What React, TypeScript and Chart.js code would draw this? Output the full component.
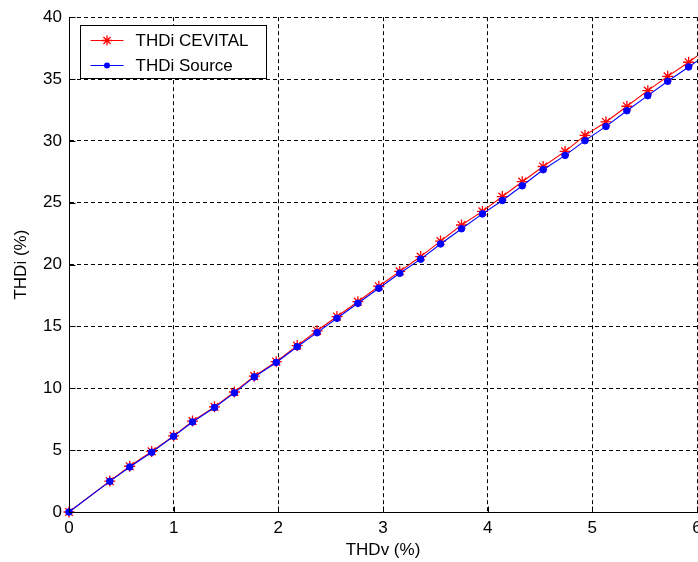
import React, { useEffect, useRef } from 'react';
import { Chart, registerables } from 'chart.js';

Chart.register(...registerables);

// ---- data ----
const thdv = [0, 0.39, 0.58, 0.79, 1.0, 1.18, 1.39, 1.58, 1.77, 1.98, 2.18, 2.37, 2.56, 2.76, 2.96, 3.16, 3.36, 3.55, 3.75, 3.95, 4.14, 4.33, 4.53, 4.74, 4.93, 5.13, 5.33, 5.53, 5.72, 5.92, 6.12];
const thdiCevital = [0, 2.5, 3.7, 4.9, 6.15, 7.35, 8.5, 9.7, 10.98, 12.15, 13.45, 14.65, 15.8, 17.0, 18.25, 19.45, 20.65, 21.9, 23.2, 24.3, 25.5, 26.7, 27.93, 29.15, 30.45, 31.53, 32.8, 34.06, 35.22, 36.36, 37.6];
const thdiSource = [0, 2.48, 3.64, 4.83, 6.12, 7.28, 8.45, 9.63, 10.92, 12.09, 13.36, 14.5, 15.66, 16.87, 18.09, 19.3, 20.44, 21.67, 22.9, 24.1, 25.18, 26.37, 27.67, 28.83, 30.02, 31.17, 32.44, 33.66, 34.82, 35.98, 37.15];
const xTicks = [0, 1, 2, 3, 4, 5, 6];
const yTicks = [0, 5, 10, 15, 20, 25, 30, 35, 40];
const seriesLabels = ['THDi CEVITAL', 'THDi Source'];
const seriesColors = ['#ff0000', '#0000ff'];
const seriesMarkers = ['star', 'circle'];
const xTitle = 'THDv (%)';
const yTitle = 'THDi (%)';

const FONT = '"Liberation Sans", Arial, Helvetica, sans-serif';
const FONT_SIZE = 17;

function drawMarker(ctx: CanvasRenderingContext2D, style: string, x: number, y: number, color: string) {
  ctx.save();
  ctx.strokeStyle = color;
  ctx.fillStyle = color;
  ctx.lineWidth = 1.3;
  if (style === 'star') {
    const r = 5;
    ctx.beginPath();
    for (let k = 0; k < 4; k++) {
      const a = (k * Math.PI) / 4;
      ctx.moveTo(x - r * Math.cos(a), y - r * Math.sin(a));
      ctx.lineTo(x + r * Math.cos(a), y + r * Math.sin(a));
    }
    ctx.stroke();
  } else {
    ctx.beginPath();
    ctx.arc(x, y, 3, 0, Math.PI * 2);
    ctx.fill();
  }
  ctx.restore();
}

const legendPlugin = {
  id: 'insideLegend',
  afterDraw(chart: any) {
    const { ctx, chartArea } = chart;
    const x0 = Math.round(chartArea.left + 11) + 0.5;
    const y0 = Math.round(chartArea.top + 8) + 0.5;
    const w = 186;
    const h = 53;
    ctx.save();
    ctx.fillStyle = '#ffffff';
    ctx.fillRect(x0, y0, w, h);
    ctx.strokeStyle = '#000000';
    ctx.lineWidth = 1;
    ctx.strokeRect(x0, y0, w, h);
    ctx.font = `${FONT_SIZE}px ${FONT}`;
    ctx.textBaseline = 'middle';
    ctx.textAlign = 'left';
    chart.data.datasets.forEach((ds: any, i: number) => {
      const yy = Math.round(y0 + 14 + i * 25) + 0.5;
      ctx.strokeStyle = ds.borderColor;
      ctx.lineWidth = 1;
      ctx.beginPath();
      ctx.moveTo(x0 + 10, yy);
      ctx.lineTo(x0 + 43, yy);
      ctx.stroke();
      drawMarker(ctx, ds.pointStyle, x0 + 26.5, yy, ds.borderColor);
      ctx.fillStyle = '#000000';
      ctx.fillText(ds.label, x0 + 55, yy + 1);
    });
    ctx.restore();
  },
};

const innerTicksPlugin = {
  id: 'innerTicks',
  afterDraw(chart: any) {
    const { ctx, chartArea } = chart;
    const xs = chart.scales.x;
    const ys = chart.scales.y;
    const len = 6;
    ctx.save();
    ctx.strokeStyle = '#000000';
    ctx.lineWidth = 1;
    ctx.setLineDash([]);
    ctx.beginPath();
    const bottom = Math.round(chartArea.bottom) + 0.5;
    const left = Math.round(chartArea.left) + 0.5;
    xTicks.forEach((v) => {
      const px = Math.round(xs.getPixelForValue(v)) + 0.5;
      ctx.moveTo(px, bottom);
      ctx.lineTo(px, bottom - len);
    });
    yTicks.forEach((v) => {
      const py = Math.round(ys.getPixelForValue(v)) + 0.5;
      ctx.moveTo(left, py);
      ctx.lineTo(left + len, py);
    });
    ctx.stroke();
    ctx.restore();
  },
};

export default function App() {
  const canvasRef = useRef<HTMLCanvasElement | null>(null);

  useEffect(() => {
    if (!canvasRef.current) return;
    Chart.defaults.font.family = FONT;
    Chart.defaults.font.size = FONT_SIZE;
    Chart.defaults.color = '#000000';

    const series = [thdiCevital, thdiSource];
    const datasets = series.map((vals, i) => ({
      label: seriesLabels[i],
      data: thdv.map((x, j) => ({ x, y: vals[j] })),
      borderColor: seriesColors[i],
      backgroundColor: seriesColors[i],
      borderWidth: 1.1,
      pointStyle: seriesMarkers[i],
      pointRadius: i === 0 ? 5.5 : 3.3,
      pointBorderWidth: i === 0 ? 1.3 : 1,
      pointBorderColor: seriesColors[i],
      pointBackgroundColor: seriesColors[i],
      tension: 0,
      order: i === 0 ? 1 : 0,
      clip: { left: 8, bottom: 8, top: 0, right: 0 },
    }));

    const chart = new Chart(canvasRef.current, {
      type: 'line',
      data: { datasets },
      options: {
        animation: false,
        responsive: false,
        devicePixelRatio: 1,
        layout: { padding: { left: 0, top: 17, right: 23, bottom: 0 } },
        plugins: {
          legend: { display: false },
          tooltip: { enabled: false },
        },
        scales: {
          x: {
            type: 'linear',
            min: 0,
            max: 6,
            afterBuildTicks: (s: any) => {
              s.ticks = xTicks.map((v) => ({ value: v }));
            },
            afterFit: (s: any) => {
              s.height = 50;
            },
            ticks: {
              padding: 6,
              color: '#000',
              font: { size: FONT_SIZE, family: FONT },
              callback: (v: any) => String(v),
              maxRotation: 0,
              autoSkip: false,
            },
            grid: {
              color: '#000000',
              lineWidth: 1,
              drawTicks: false,
            },
            border: { display: true, color: '#000000', width: 1, dash: [4, 3] },
            title: {
              display: true,
              text: xTitle,
              color: '#000',
              font: { size: FONT_SIZE, family: FONT },
              padding: { top: 0, bottom: 1 },
            },
          },
          y: {
            type: 'linear',
            min: 0,
            max: 40,
            afterBuildTicks: (s: any) => {
              s.ticks = yTicks.map((v) => ({ value: v }));
            },
            afterFit: (s: any) => {
              s.width = 69;
            },
            ticks: {
              padding: 7,
              color: '#000',
              font: { size: FONT_SIZE, family: FONT },
              callback: (v: any) => String(v),
              autoSkip: false,
            },
            grid: {
              color: '#000000',
              lineWidth: 1,
              drawTicks: false,
            },
            border: { display: true, color: '#000000', width: 1, dash: [4, 3] },
            title: {
              display: true,
              text: yTitle,
              color: '#000',
              font: { size: FONT_SIZE, family: FONT },
              padding: { top: 11, bottom: 0 },
            },
          },
        },
      },
      plugins: [innerTicksPlugin, legendPlugin],
    } as any);

    return () => chart.destroy();
  }, []);

  return (
    <div
      style={{
        position: 'absolute',
        left: 0,
        top: 0,
        width: 698,
        height: 562,
        overflow: 'hidden',
        background: '#ffffff',
      }}
    >
      <canvas ref={canvasRef} width={720} height={562} style={{ display: 'block', width: 720, height: 562 }} />
    </div>
  );
}
